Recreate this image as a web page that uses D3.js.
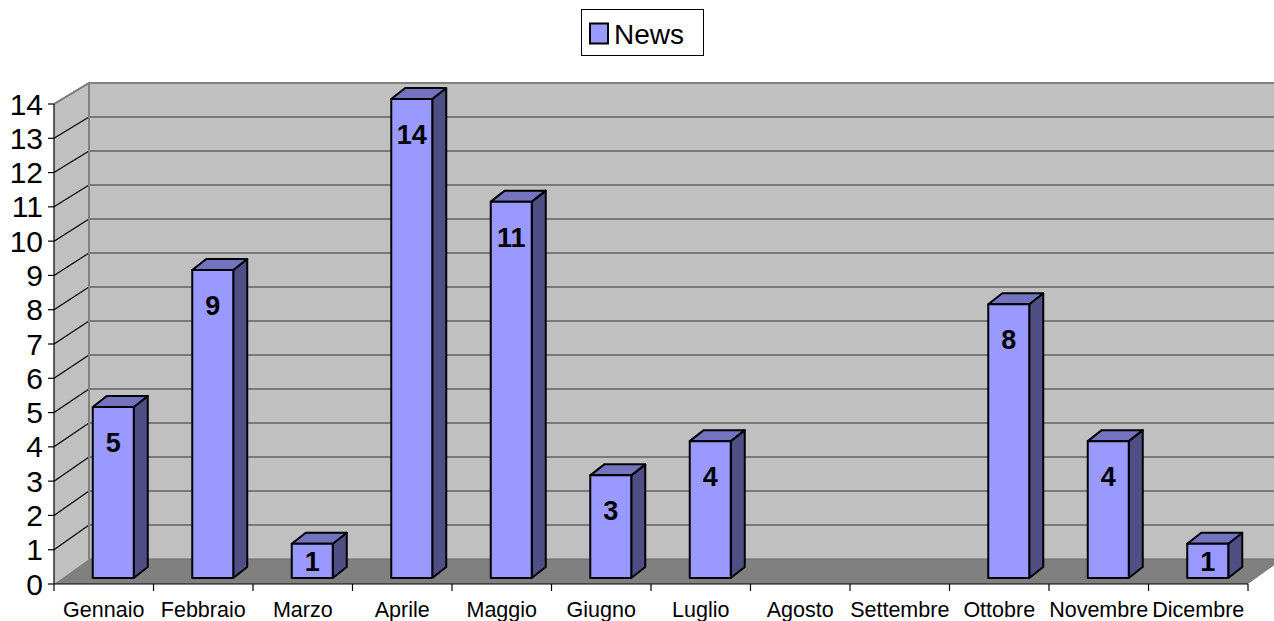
<!DOCTYPE html>
<html><head><meta charset="utf-8">
<script src="https://cdn.jsdelivr.net/npm/d3@7/dist/d3.min.js"></script>
<style>body{margin:0;background:#fff}svg{display:block}</style>
</head><body>
<script>
const categories = ["Gennaio","Febbraio","Marzo","Aprile","Maggio","Giugno","Luglio","Agosto","Settembre","Ottobre","Novembre","Dicembre"];
const values = [5,9,1,14,11,3,4,0,0,8,4,1];
const yTicks = [0,1,2,3,4,5,6,7,8,9,10,11,12,13,14];
const seriesName = "News";

const W=1274,H=621;
const svg=d3.select("body").append("svg").attr("width",W).attr("height",H);
const font="Arial, 'Liberation Sans', sans-serif";

const x0=54,x1=1248, depthX=35;
const x=d3.scaleBand().domain(categories).range([x0,x1]);
const yF=d3.scaleLinear().domain([0,14]).range([584,104]);
const yBack=d3.scaleLinear().domain([0,14]).range([559,83]);
const yBar=d3.scaleLinear().domain([0,14]).range([578,99]);

// back wall
svg.append("rect").attr("x",x0+depthX).attr("y",yBack(14)).attr("width",W).attr("height",yBack(0)-yBack(14)).attr("fill","#C0C0C0");
// side wall
svg.append("polygon").attr("points",[[x0,yF(14)],[x0+depthX,yBack(14)],[x0+depthX,yBack(0)],[x0,yF(0)]].join(" ")).attr("fill","#C0C0C0");
// floor
svg.append("polygon").attr("points",[[x0,yF(0)],[x1,yF(0)],[x1+depthX,yBack(0)],[x0+depthX,yBack(0)]].join(" ")).attr("fill","#808080");

// gridlines
yTicks.forEach(v=>{
  if(v>0) svg.append("line").attr("x1",x0+depthX).attr("x2",W).attr("y1",yBack(v)).attr("y2",yBack(v)).attr("stroke","#333").attr("stroke-width",1.2);
  if(v>0) svg.append("line").attr("x1",x0).attr("x2",x0+depthX).attr("y1",yF(v)).attr("y2",yBack(v)).attr("stroke","#000").attr("stroke-width",1.2);
});
// wall edges
svg.append("polyline").attr("points",[[x0,yF(14)],[x0+depthX,yBack(14)],[W,yBack(14)]].join(" ")).attr("fill","none").attr("stroke","#808080").attr("stroke-width",2);
svg.append("line").attr("x1",x0+depthX).attr("x2",x0+depthX).attr("y1",yBack(14)).attr("y2",yBack(0)).attr("stroke","#808080").attr("stroke-width",2);
svg.append("line").attr("x1",x0+depthX).attr("x2",W).attr("y1",yBack(0)).attr("y2",yBack(0)).attr("stroke","#6a6a6a").attr("stroke-width",1);

// axes
svg.append("line").attr("x1",x0).attr("x2",x0).attr("y1",yF(14)).attr("y2",yF(0)).attr("stroke","#000").attr("stroke-width",1.2);
svg.append("line").attr("x1",x0).attr("x2",x1).attr("y1",yF(0)).attr("y2",yF(0)).attr("stroke","#000").attr("stroke-width",1.2);
yTicks.forEach(v=>{
  svg.append("line").attr("x1",x0-6).attr("x2",x0).attr("y1",yF(v)).attr("y2",yF(v)).attr("stroke","#000").attr("stroke-width",1.2);
  svg.append("text").attr("x",43).attr("y",yF(v)).attr("dy","0.35em").attr("text-anchor","end")
    .attr("font-family",font).attr("font-size",30).text(v);
});
const bounds=categories.map(c=>x(c)).concat([x1]);
bounds.forEach(b=>svg.append("line").attr("x1",b).attr("x2",b).attr("y1",yF(0)).attr("y2",yF(0)+7).attr("stroke","#000").attr("stroke-width",1.2));
categories.forEach(c=>{
  svg.append("text").attr("x",x(c)+x.bandwidth()/2).attr("y",617).attr("text-anchor","middle")
    .attr("font-family",font).attr("font-size",21.5).text(c);
});

// bars
const bw=41, bdx=14, bdy=-11, shift=9.5;
categories.forEach((c,i)=>{
  const v=values[i]; if(v<=0) return;
  const fx=x(c)+shift+(x.bandwidth()-bw)/2;
  const top=yBar(v), bot=yBar(0);
  const g=svg.append("g").attr("stroke","#000").attr("stroke-width",2).attr("stroke-linejoin","round");
  g.append("polygon").attr("points",[[fx+bw,top],[fx+bw+bdx,top+bdy],[fx+bw+bdx,bot+bdy],[fx+bw,bot]].join(" ")).attr("fill","#4F4F85");
  g.append("polygon").attr("points",[[fx,top],[fx+bdx,top+bdy],[fx+bw+bdx,top+bdy],[fx+bw,top]].join(" ")).attr("fill","#7373BF");
  g.append("rect").attr("x",fx).attr("y",top).attr("width",bw).attr("height",bot-top).attr("fill","#9999FF");
  const ly = v>=2 ? yBar(v-1)+1 : (top+bot)/2;
  svg.append("text").attr("x",fx+bw/2).attr("y",ly).attr("dy","0.36em").attr("text-anchor","middle")
    .attr("font-family",font).attr("font-weight","bold").attr("font-size",27).text(v);
});

// legend
svg.append("rect").attr("x",581.5).attr("y",9.5).attr("width",122).attr("height",46).attr("fill","#fff").attr("stroke","#000").attr("stroke-width",1);
svg.append("rect").attr("x",590).attr("y",23.5).attr("width",18).attr("height",20).attr("fill","#9999FF").attr("stroke","#000").attr("stroke-width",2);
svg.append("text").attr("x",614).attr("y",44).attr("font-family",font).attr("font-size",28).text(seriesName);
</script>
</body></html>
